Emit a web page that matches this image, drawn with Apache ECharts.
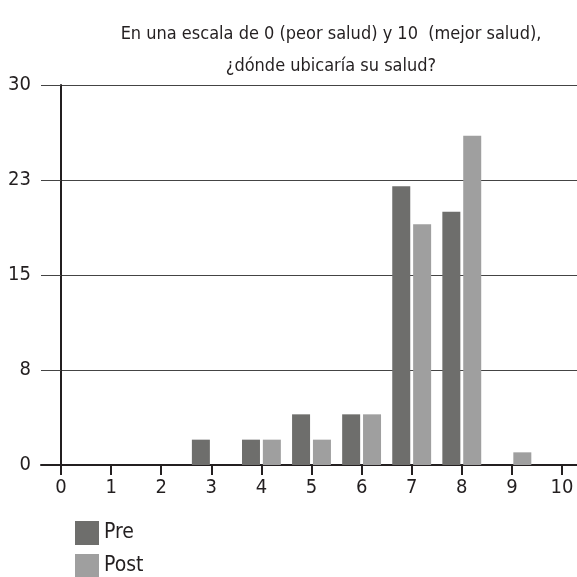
<!DOCTYPE html>
<html>
<head>
<meta charset="utf-8">
<script src="https://cdn.jsdelivr.net/npm/echarts@6/dist/echarts.min.js"></script>
<style>
  html, body { margin: 0; padding: 0; background: #fff; }
  #chart { width: 577px; height: 577px; }
</style>
</head>
<body>
<div id="chart"></div>
<script>
  // escala 0..10
  const scores = [0, 1, 2, 3, 4, 5, 6, 7, 8, 9, 10];
  const preScores = [3, 4, 5, 6, 7, 8];
  const preValues = [2, 2, 4, 4, 22, 20];
  const postScores = [4, 5, 6, 7, 8, 9];
  const postValues = [2, 2, 4, 19, 26, 1];
  const yTicks = [0, 7.5, 15, 22.5, 30];

  const font = '"Liberation Sans Narrow", "DejaVu Sans Condensed", "Roboto Condensed", sans-serif';
  const chart = echarts.init(document.getElementById('chart'));

  const legendText = { fontFamily: font, fontSize: 21, color: '#231f20' };

  chart.setOption({
    animation: false,
    textStyle: { fontFamily: font, color: '#231f20' },
    title: {
      text: 'En una escala de 0 (peor salud) y 10  (mejor salud),\n¿dónde ubicaría su salud?',
      left: 326,
      textAlign: 'center',
      top: 13,
      textStyle: { fontFamily: font, fontSize: 18, fontWeight: 'normal', lineHeight: 32, color: '#231f20' }
    },
    legend: [
      {
        data: ['Pre'], left: 75, top: 521, padding: 0,
        itemWidth: 24, itemHeight: 24, icon: 'rect', textStyle: legendText
      },
      {
        data: ['Post'], left: 75, top: 554, padding: 0,
        itemWidth: 24, itemHeight: 23, icon: 'rect', textStyle: legendText
      }
    ],
    grid: { left: 41, right: -4, top: 85, bottom: 112 },
    xAxis: {
      type: 'value',
      min: -0.4,
      max: 10.3,
      splitLine: { show: false },
      axisLine: { show: true, lineStyle: { color: '#231f20', width: 2 } },
      axisTick: { show: true, customValues: scores, length: 10, lineStyle: { color: '#231f20', width: 2 } },
      axisLabel: { customValues: scores, fontFamily: font, fontSize: 20, color: '#231f20', margin: 13 }
    },
    yAxis: {
      type: 'value',
      min: 0,
      max: 30,
      interval: 7.5,
      axisLine: { show: true, lineStyle: { color: '#231f20', width: 2 } },
      axisTick: { show: true, customValues: yTicks.slice(1), length: 9, lineStyle: { color: '#444', width: 1 } },
      axisLabel: {
        fontFamily: font, fontSize: 20, color: '#231f20', margin: 10,
        formatter: v => String(Math.round(v))
      },
      splitLine: { show: true, lineStyle: { color: '#444', width: 1 } }
    },
    series: [
      {
        name: 'Pre',
        type: 'bar',
        barWidth: 18,
        barGap: '16%',
        itemStyle: { color: '#6e6e6c' },
        data: preScores.map((s, i) => [s, preValues[i]])
      },
      {
        name: 'Post',
        type: 'bar',
        barWidth: 18,
        barGap: '16%',
        itemStyle: { color: '#9f9f9f' },
        data: postScores.map((s, i) => [s, postValues[i]])
      }
    ]
  });
</script>
</body>
</html>
